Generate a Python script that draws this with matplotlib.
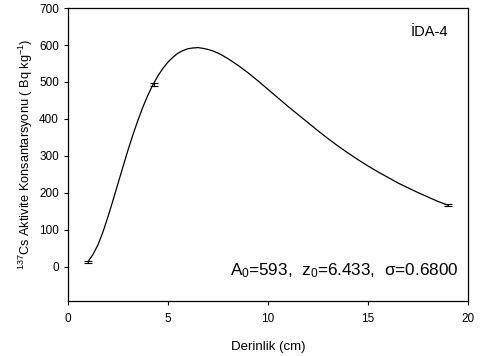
import matplotlib
matplotlib.use('Agg')
from matplotlib import pyplot as plt

plt.rcParams['font.family'] = ['Liberation Sans', 'DejaVu Sans']
plt.rcParams['mathtext.fontset'] = 'custom'
plt.rcParams['mathtext.rm'] = 'Liberation Sans'
plt.rcParams['mathtext.it'] = 'Liberation Sans'

# fitted curve, values
depth_fit = [1.0, 1.25, 1.5, 1.75, 2.0, 2.25, 2.5, 2.75, 3.0, 3.25, 3.5, 3.75,
             4.0, 4.25, 4.5, 4.75, 5.0, 5.25, 5.5, 5.75, 6.0, 6.25, 6.5, 6.75, 7.0,
             7.25, 7.5, 7.75, 8.0, 8.5, 9.0, 9.5, 10.0, 10.5, 11.0, 11.5, 12.0, 12.5, 13.0,
             13.5, 14.0, 14.5, 15.0, 15.5, 16.0, 16.5, 17.0, 17.5, 18.0, 18.5, 19.0]
activity_fit = [14, 34, 60, 95, 136, 180, 226, 271, 316, 358, 397, 433,
                465, 493, 517, 537, 554, 567, 578, 585, 590, 592, 593, 591, 588,
                584, 578, 571, 563, 545, 525, 503, 480, 457, 434, 412, 390, 368, 347,
                327, 308, 290, 273, 257, 242, 227, 214, 201, 189, 177, 167]

# measured points with errors
depth_meas = [1.0, 4.3, 19.0]
activity_meas = [14, 492, 167]
activity_err = [2, 4, 2]

fig = plt.figure(figsize=(4.84, 3.56), dpi=100)
ax = fig.add_axes([0.1405, 0.1545, 0.8265, 0.823])

ax.plot(depth_fit, activity_fit, color='black', lw=0.9)
ax.errorbar(depth_meas, activity_meas, yerr=activity_err, fmt='none',
            ecolor='black', elinewidth=0.8, capsize=3, capthick=0.8)

ax.set_xlim(0, 20)
ax.set_ylim(-92, 700)
ax.set_xticks([0, 5, 10, 15, 20])
ax.set_yticks([0, 100, 200, 300, 400, 500, 600, 700])
ax.tick_params(direction='out', length=3, width=0.8, labelsize=8.5)
ax.tick_params(axis='x', pad=6)
for sp in ax.spines.values():
    sp.set_linewidth(0.9)

ax.set_xlabel('Derinlik (cm)', fontsize=9.5, labelpad=11)
ax.set_ylabel(r'$^{137}$Cs Aktivite Konsantarsyonu ( Bq kg$^{-1}$)', fontsize=9.2, labelpad=3)

ax.text(0.975, 0.105, r'A$_0$=593,  z$_0$=6.433,  σ=0.6800',
        transform=ax.transAxes, ha='right', va='center', fontsize=12.3)
ax.text(0.95, 0.918, 'İDA-4', transform=ax.transAxes, ha='right', va='center', fontsize=10.5)

fig.savefig('out.png', dpi=100)
